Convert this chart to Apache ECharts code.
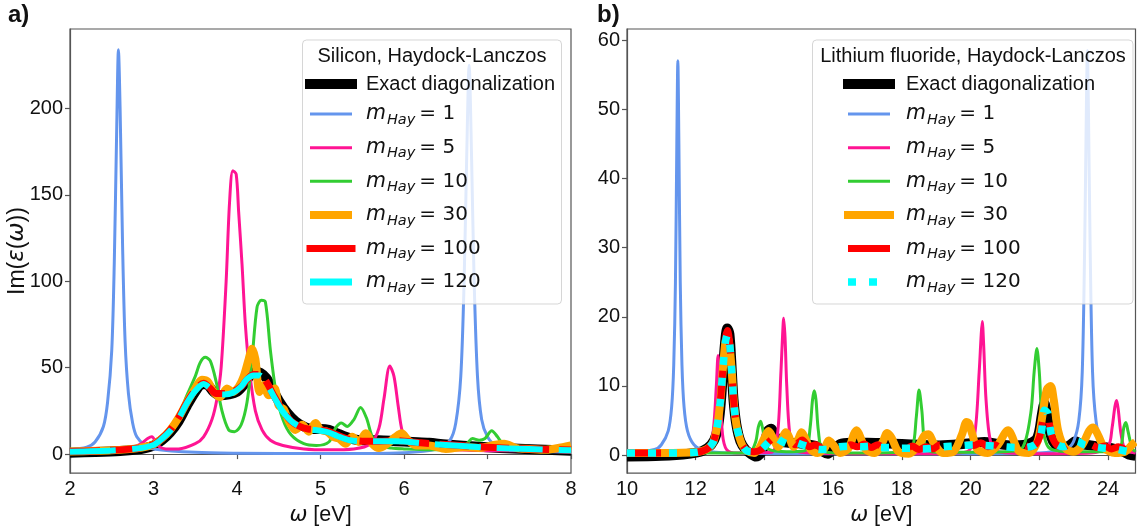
<!DOCTYPE html>
<html><head><meta charset="utf-8">
<script src="https://cdn.jsdelivr.net/npm/echarts@6/dist/echarts.min.js"></script>
<style>html,body{margin:0;padding:0;background:#fff}#c{width:1137px;height:531px}</style>
</head><body><div id="c"></div>
<script>
// ---------- Panel a) Silicon ----------
const siExactX = [2.0,2.3,2.6,2.8,2.9,3.0,3.1,3.2,3.3,3.4,3.5,3.58,3.65,3.72,3.8,3.9,4.0,4.08,4.15,4.22,4.28,4.35,4.42,4.5,4.6,4.7,4.8,4.9,5.0,5.1,5.2,5.3,5.4,5.5,5.7,5.9,6.1,6.3,6.5,6.8,7.0,7.3,7.6,8.0];
const siExactY = [0.8,1.2,1.8,2.6,3.5,5,8,12.5,19,28,36,40.5,40,36,34,34.5,36,40,45,47.5,47,44,38,31,24,19,16,14.5,14.5,14,12,10,8.5,8,8,7.5,7,6.5,5.5,4.5,4,3.2,2.6,2];
const siBlueX = [2.0,2.2,2.3,2.4,2.45,2.5,2.53,2.56,2.58,2.6,2.63,2.66,2.7,2.75,2.8,2.9,3.0,3.5,4.0,5.0,6.0,6.4,6.55,6.62,6.68,6.72,6.75,6.78,6.81,6.84,6.88,6.93,7.0,7.1,7.3,8.0];
const siBlueY = [2.5,4,7,16,30,60,110,190,234,200,120,65,35,18,10,5,3,1,0.5,0.3,0.8,3,8,18,45,100,170,225,170,100,45,20,10,5,2.5,1];
const siPinkX = [2.0,2.4,2.7,2.85,2.93,2.98,3.05,3.15,3.3,3.5,3.6,3.7,3.76,3.81,3.87,3.91,3.95,3.99,4.02,4.06,4.1,4.15,4.22,4.3,4.4,4.55,4.8,5.1,5.4,5.6,5.7,5.76,5.83,5.88,5.93,5.98,6.05,6.15,6.3,6.6,7.0,7.5,8.0];
const siPinkY = [0.5,1.2,3,6,9,10,5,3,3,6,10,20,32,50,100,145,164,162,140,110,75,48,25,14,8,5,3,2.5,3,6,15,32,51,45,28,13,7,4,3,2.5,2,2,2];
const siGreenX = [2.0,2.5,2.8,3.0,3.2,3.3,3.4,3.5,3.56,3.62,3.68,3.75,3.82,3.9,3.97,4.05,4.12,4.18,4.24,4.29,4.34,4.4,4.47,4.55,4.65,4.8,4.95,5.1,5.18,5.25,5.32,5.4,5.48,5.55,5.62,5.7,5.85,6.0,6.3,6.6,6.75,6.82,6.9,6.97,7.05,7.12,7.2,7.4,7.7,8.0];
const siGreenY = [1,1.8,3,5,13,22,34,45,53,56,54,42,25,14,13,17,30,55,85,89,88,60,35,20,11,6,5,7,15,18,16,20,27,21,10,5,3.5,3,2.5,3,6,9,8,9,13.5,10,5,3,2.5,2];
const siOrangeX = [2.0,2.5,2.8,3.0,3.1,3.2,3.3,3.4,3.5,3.58,3.65,3.72,3.8,3.88,3.95,4.02,4.08,4.14,4.18,4.22,4.27,4.32,4.38,4.45,4.5,4.56,4.62,4.7,4.78,4.86,4.94,5.0,5.08,5.15,5.22,5.3,5.38,5.46,5.54,5.62,5.7,5.8,5.9,5.97,6.05,6.15,6.3,6.5,6.7,6.9,7.05,7.2,7.35,7.5,7.7,7.9,8.0];
const siOrangeY = [1.5,2.2,3.3,5.5,9,14,21,30,38,43,42,36,33,38,36,39,45,55,61,55,36,40,34,38,28,26,19,14,17,13,18,14,13,10,9,6,10,7,12,6,3.5,6,10,12,8,5,5,3,4,3.5,5,6,3.5,3,2.5,4,5];
const siRedX = [2.0,2.5,2.8,3.0,3.1,3.2,3.3,3.4,3.5,3.6,3.68,3.75,3.85,3.95,4.05,4.12,4.2,4.27,4.35,4.45,4.55,4.65,4.75,4.85,5.0,5.1,5.2,5.35,5.5,5.7,5.9,6.0,6.2,6.5,7.0,7.5,8.0];
const siRedY = [1.5,2.2,3.3,5.5,9,14,21,30,37,41,38,35,35,36,39,43,46,46,42,33,25,19,16,14.5,14,13,11,8.5,7.5,7.5,7.8,7.5,6.5,5.5,4,3,2.3];
const siCyanX = [2.0,2.5,2.8,3.0,3.1,3.2,3.3,3.4,3.5,3.6,3.68,3.75,3.85,3.95,4.05,4.12,4.2,4.27,4.35,4.45,4.55,4.65,4.75,4.85,5.0,5.1,5.2,5.35,5.5,5.7,5.9,6.0,6.2,6.5,7.0,7.5,8.0];
const siCyanY = [1.4,2.1,3.2,5.3,8.8,13.5,20.5,29.5,36.5,40.5,38,35,34.5,35.5,39,43.5,45.5,45.5,41,32.5,24.5,19,16,14.5,13.5,12.5,10.5,8,7.5,7.5,7.5,7.3,6.3,5.3,3.8,2.9,2.2];

// ---------- Panel b) Lithium fluoride ----------
const lfExactX = [10,11,11.8,12.2,12.45,12.6,12.7,12.78,12.85,12.92,12.98,13.04,13.1,13.18,13.3,13.45,13.6,13.75,13.9,14.0,14.1,14.2,14.3,14.45,14.7,15.0,15.3,15.55,15.7,15.85,16.0,16.2,16.5,17.0,17.5,18.0,18.5,19.0,19.5,20.0,20.4,20.8,21.2,21.6,21.9,22.0,22.08,22.15,22.22,22.3,22.4,22.55,22.7,22.9,23.05,23.2,23.5,23.8,24.1,24.4,24.6,24.8];
const lfExactY = [-0.2,-0.1,0.2,0.6,1.5,3,6,11,16,18.3,17.5,13,8,4.5,2,0.8,0.2,-0.2,0.3,1.5,3.5,3.8,2.8,2,1.8,1.7,1.5,1.2,0.5,0.2,0.8,1.6,1.8,1.8,1.7,1.6,1.5,1.4,1.5,1.7,1.9,1.6,1.4,1.5,2.2,3.5,6,7.5,6,3.5,2,1.2,1,1.5,2,1.6,1.4,1.2,1.0,0.6,0.1,-0.1];
const lfBlueX = [10,10.8,11.0,11.2,11.3,11.36,11.41,11.45,11.48,11.51,11.55,11.6,11.66,11.76,11.95,12.3,13,16,20,22,22.8,23.0,23.15,23.25,23.32,23.37,23.4,23.43,23.48,23.55,23.65,23.8,24.2,24.8];
const lfBlueY = [0.3,0.8,1.5,3.5,7,13,25,45,57,45,25,13,7,3.5,1.5,0.6,0.3,0.2,0.2,0.3,1,2,5,12,30,50,58.5,50,30,12,5,2,0.8,0.4];
const lfPinkX = [10,12,12.4,12.52,12.6,12.65,12.7,12.78,12.9,13.2,14.2,14.38,14.48,14.53,14.56,14.6,14.65,14.74,14.9,15.5,17,19,19.9,20.12,20.25,20.31,20.34,20.38,20.45,20.58,20.8,22,23.5,24.0,24.12,24.2,24.25,24.3,24.38,24.5,24.8];
const lfPinkY = [0.3,0.3,1,4,10,14.4,10,3,0.8,0.3,0.4,3,12,17.5,19.8,17,10,3,0.6,0.3,0.2,0.2,0.5,3,12,17.5,19.3,16,8,2,0.5,0.2,0.3,1.2,4,7,7.9,6.5,3,0.8,0.3];
const lfGreenX = [10,12,12.8,13.3,13.6,13.75,13.82,13.89,13.96,14.05,14.3,14.8,15.2,15.33,15.4,15.45,15.5,15.57,15.7,16.2,17,18,18.3,18.42,18.5,18.58,18.7,19,20,21,21.5,21.75,21.85,21.93,22.0,22.1,22.3,23,24,24.35,24.46,24.52,24.58,24.7,24.8];
const lfGreenY = [0.3,0.3,0.3,0.3,0.5,2,4,4.9,3.5,1.2,0.6,0.5,0.7,4,8,9.3,8,3.5,0.6,0.3,0.3,0.4,1,5.5,9.4,6.5,1,0.4,0.4,0.5,1,6,12,15.4,12,4,1,0.5,0.5,1,4,4.7,3.5,1,0.5];
const lfOrangeX = [10,11,12,12.3,12.5,12.62,12.72,12.8,12.87,12.93,12.99,13.05,13.12,13.2,13.35,13.5,13.7,13.85,14.0,14.12,14.25,14.4,14.55,14.62,14.7,14.85,15.0,15.08,15.18,15.35,15.55,15.75,15.87,16.0,16.2,16.45,16.6,16.68,16.76,16.95,17.2,17.45,17.57,17.7,17.9,18.2,18.5,18.65,18.78,18.92,19.2,19.5,19.75,19.88,19.95,20.05,20.2,20.5,20.8,21.0,21.1,21.2,21.4,21.7,21.95,22.1,22.22,22.33,22.42,22.55,22.75,23.0,23.25,23.45,23.57,23.7,23.9,24.2,24.5,24.7,24.8];
const lfOrangeY = [0.3,0.3,0.4,0.8,1.8,4,8,13,16.5,17,15.5,12,7,4,1.5,0.6,0.3,1.0,2.5,3.5,2.5,1.2,2.8,3.3,2.8,1.2,2.5,3.3,2.5,0.8,0.3,1.0,2.1,1.5,0.3,1.0,3.0,3.6,3.0,0.8,0.3,2.0,3.2,2.5,0.5,0.2,1.5,2.8,3.0,1.8,0.3,0.5,3.0,4.8,4.6,3.0,0.8,0.3,1.5,3.2,3.6,2.8,0.6,0.3,2.0,6.0,9.5,10,8,3.5,1.0,0.5,1.5,3.5,4.0,3.0,1.0,0.3,0.5,1.5,1.9];
const lfRedX = [10,11,12,12.3,12.5,12.62,12.72,12.8,12.87,12.93,12.99,13.05,13.12,13.2,13.35,13.5,13.7,13.9,14.1,14.3,14.5,14.7,14.9,15.1,15.3,15.5,15.7,15.9,16.1,16.3,16.5,16.7,16.9,17.1,17.3,17.5,17.7,17.9,18.1,18.3,18.5,18.7,18.9,19.1,19.3,19.5,19.7,19.9,20.1,20.3,20.5,20.7,20.9,21.1,21.3,21.5,21.7,21.9,22.0,22.1,22.17,22.25,22.35,22.5,22.7,22.9,23.1,23.3,23.5,23.7,23.9,24.1,24.3,24.5,24.7,24.8];
const lfRedY = [0.3,0.3,0.4,0.8,1.8,4,8,13,17,18,16,12,7,4,1.5,0.7,0.5,0.8,1.8,2.5,1.8,2.5,1.5,2.2,1.2,1.5,0.8,0.6,1.2,1.0,1.5,1.2,1.6,1.1,1.5,1.0,1.3,1.1,0.9,1.3,0.8,1.2,0.9,1.5,1.0,1.6,1.1,1.5,1.4,1.8,1.2,1.5,1.0,1.4,1.1,1.5,1.2,1.6,2.5,5,6.8,6,3,1.5,1.2,1.8,2.2,1.5,1.5,1.1,1.3,0.9,1.2,0.8,0.5,0.3];
const lfCyanX = [10,11,12,12.3,12.5,12.62,12.72,12.8,12.87,12.93,12.99,13.05,13.12,13.2,13.35,13.5,13.7,13.9,14.1,14.3,14.5,14.7,14.9,15.1,15.3,15.6,15.9,16.2,16.5,16.8,17.1,17.4,17.7,18.0,18.3,18.6,18.9,19.2,19.5,19.8,20.1,20.4,20.7,21.0,21.3,21.6,21.9,22.05,22.15,22.25,22.35,22.5,22.7,22.9,23.1,23.3,23.6,23.9,24.2,24.5,24.8];
const lfCyanY = [0.3,0.3,0.4,0.8,1.8,4,8,13,16.5,17.5,16,12,7,4,1.5,0.6,0.5,0.8,1.8,2.6,2,1.6,1.8,1.5,1.2,0.8,0.8,1.2,1.3,1.2,1.3,1.1,1.1,1.0,1.0,0.9,1.0,1.2,1.3,1.4,1.5,1.4,1.3,1.2,1.1,1.1,1.6,3,6.5,6,3,1.6,1.2,1.6,2,1.5,1.2,1.0,0.9,0.6,0.3];

// ---------- ticks / labels ----------
const siXTicks = [2,3,4,5,6,7,8];
const siYTicks = [0,50,100,150,200];
const lfXTicks = [10,12,14,16,18,20,22,24];
const lfYTicks = [0,10,20,30,40,50,60];
const seriesNames = ['Exact diagonalization','mHay = 1','mHay = 5','mHay = 10','mHay = 30','mHay = 100','mHay = 120'];
const panelTitles = ['Silicon, Haydock-Lanczos','Lithium fluoride, Haydock-Lanczos'];
const panelLetters = ['a)','b)'];

const COLORS = {exact:'#000000', blue:'#6495ED', pink:'#FF1493', green:'#32CD32', orange:'#FFA500', red:'#FF0000', cyan:'#00FFFF'};
const SANS = '"Liberation Sans", Arial, sans-serif';
const TXT = '#111111';
const AX = '#555555';

function pairs(xs, ys){ return xs.map((x,i)=>[x, ys[i]]); }

function mk(name, xs, ys, idx, color, width, type){
  return {
    name, type:'line', xAxisIndex:idx, yAxisIndex:idx,
    data: pairs(xs, ys), symbol:'none', showSymbol:false, smooth:0.3,
    animation:false, silent:true,
    lineStyle:{color, width, type: type || 'solid', cap:'butt', join:'round'}
  };
}

const series = [
  mk(seriesNames[0], siExactX, siExactY, 0, COLORS.exact, 10),
  mk(seriesNames[1], siBlueX, siBlueY, 0, COLORS.blue, 3),
  mk(seriesNames[2], siPinkX, siPinkY, 0, COLORS.pink, 3),
  mk(seriesNames[3], siGreenX, siGreenY, 0, COLORS.green, 3),
  mk(seriesNames[4], siOrangeX, siOrangeY, 0, COLORS.orange, 8),
  mk(seriesNames[5], siRedX, siRedY, 0, COLORS.red, 7, [30,10]),
  mk(seriesNames[6], siCyanX, siCyanY, 0, COLORS.cyan, 6, [46,16]),
  mk(seriesNames[0], lfExactX, lfExactY, 1, COLORS.exact, 10),
  mk(seriesNames[1], lfBlueX, lfBlueY, 1, COLORS.blue, 3),
  mk(seriesNames[2], lfPinkX, lfPinkY, 1, COLORS.pink, 3),
  mk(seriesNames[3], lfGreenX, lfGreenY, 1, COLORS.green, 3),
  mk(seriesNames[4], lfOrangeX, lfOrangeY, 1, COLORS.orange, 8),
  mk(seriesNames[5], lfRedX, lfRedY, 1, COLORS.red, 7, [34,30]),
  mk(seriesNames[6], lfCyanX, lfCyanY, 1, COLORS.cyan, 7.5, [8,13])
];

function legendFormatter(name){
  if (name.indexOf('mHay') === 0) {
    const v = name.split('=')[1].trim();
    return '{m|m}{s|Hay}{t|\u2009= ' + v + '}';
  }
  return '{e|' + name + '}';
}
function richFor(padLeft){
  return {
    e:{fontFamily:SANS, fontSize:20, color:TXT, lineHeight:22, padding:[0,0,0,padLeft]},
    m:{fontFamily:'"DejaVu Sans"', fontStyle:'italic', fontSize:20.5, color:TXT, lineHeight:25, padding:[0,0,0,padLeft]},
    s:{fontFamily:'"DejaVu Sans"', fontStyle:'italic', fontSize:14.5, color:TXT, lineHeight:13, padding:[12,0,0,1]},
    t:{fontFamily:'"DejaVu Sans"', fontSize:20, color:TXT, lineHeight:25}
  };
}
const hide = {opacity:0};
const leftLegendData = [
  {name:seriesNames[0], lineStyle:{width:10, cap:'square', type:'solid'}, itemStyle:hide},
  {name:seriesNames[1], lineStyle:{width:3, type:'solid'}, itemStyle:hide},
  {name:seriesNames[2], lineStyle:{width:3, type:'solid'}, itemStyle:hide},
  {name:seriesNames[3], lineStyle:{width:3, type:'solid'}, itemStyle:hide},
  {name:seriesNames[4], lineStyle:{width:8, type:'solid'}, itemStyle:hide},
  {name:seriesNames[5], lineStyle:{width:7, type:'solid', cap:'square'}, itemStyle:hide},
  {name:seriesNames[6], lineStyle:{width:7, type:'solid'}, itemStyle:hide}
];
const rightLegendData = [
  {name:seriesNames[0], lineStyle:{width:10, cap:'square', type:'solid'}, itemStyle:hide},
  {name:seriesNames[1], lineStyle:{width:3, type:'solid'}, itemStyle:hide},
  {name:seriesNames[2], lineStyle:{width:3, type:'solid'}, itemStyle:hide},
  {name:seriesNames[3], lineStyle:{width:3, type:'solid'}, itemStyle:hide},
  {name:seriesNames[4], lineStyle:{width:8, type:'solid', cap:'square'}, itemStyle:hide},
  {name:seriesNames[5], lineStyle:{width:7, type:'solid'}, itemStyle:hide},
  {name:seriesNames[6], lineStyle:{width:7.5, type:[8,13], cap:'butt'}, itemStyle:hide}
];

function xAxisCfg(idx, min, max, ticks){
  return {
    gridIndex:idx, type:'value', min, max,
    axisLine:{show:true, lineStyle:{color:AX, width:1.2}},
    axisTick:{show:true, length:5, customValues:ticks, lineStyle:{color:AX, width:1.2}},
    axisLabel:{customValues:ticks, fontSize:20, color:TXT, margin:6, fontFamily:SANS},
    splitLine:{show:false},
    name:'{w|ω} [eV]', nameLocation:'middle', nameGap:27,
    nameTextStyle:{fontSize:21.5, fontFamily:SANS, color:TXT, rich:{w:{fontFamily:'"DejaVu Sans"', fontStyle:'italic', fontSize:21.5, color:TXT}}}
  };
}
function yAxisCfg(idx, min, max, ticks, withName){
  const c = {
    gridIndex:idx, type:'value', min, max,
    axisLine:{show:true, lineStyle:{color:AX, width:1.2}},
    axisTick:{show:true, length:5, customValues:ticks, lineStyle:{color:AX, width:1.2}},
    axisLabel:{customValues:ticks, fontSize:20, color:TXT, margin:7, fontFamily:SANS},
    splitLine:{show:false}
  };
  if (withName) {
    c.name = '{n|Im(}{g|ε}{n|(}{g|ω}{n|))}';
    c.nameLocation = 'middle';
    c.nameGap = 41;
    c.nameMoveOverlap = false;
    c.nameTextStyle = {fontSize:23, color:TXT, rich:{
      n:{fontFamily:SANS, fontSize:23, color:TXT},
      g:{fontFamily:'"DejaVu Sans"', fontStyle:'italic', fontSize:23, color:TXT}
    }};
  }
  return c;
}

const option = {
  backgroundColor:'#ffffff',
  animation:false,
  grid:[
    {left:70, top:29, width:501, height:449, show:true, borderColor:AX, borderWidth:1.2, backgroundColor:'transparent'},
    {left:627, top:29, width:508.5, height:449, show:true, borderColor:AX, borderWidth:1.2, backgroundColor:'transparent'}
  ],
  xAxis:[ xAxisCfg(0, 2, 8, siXTicks), xAxisCfg(1, 10, 24.8, lfXTicks) ],
  yAxis:[ yAxisCfg(0, -11, 246, siYTicks, true), yAxisCfg(1, -2.6, 61.6, lfYTicks, false) ],
  legend:[
    {orient:'vertical', left:305, top:74, padding:0, itemGap:6.6, itemWidth:42, itemHeight:14, z:20,
     selectedMode:false, data:leftLegendData, formatter:legendFormatter,
     textStyle:{rich:richFor(9)}},
    {orient:'vertical', left:843, top:74, padding:0, itemGap:6.6, itemWidth:42, itemHeight:14, z:20,
     selectedMode:false, data:rightLegendData, formatter:legendFormatter,
     textStyle:{rich:richFor(11)}}
  ],
  graphic:[
    {type:'rect', z:10, shape:{x:302.5, y:40, width:259, height:264, r:4},
     style:{fill:'rgba(255,255,255,0.8)', stroke:'rgba(204,204,204,0.8)', lineWidth:1}},
    {type:'rect', z:10, shape:{x:812.5, y:40, width:320.5, height:264, r:4},
     style:{fill:'rgba(255,255,255,0.8)', stroke:'rgba(204,204,204,0.8)', lineWidth:1}},
    {type:'text', z:20, x:432, y:56, style:{text:panelTitles[0], fontSize:20, fontFamily:SANS, fill:TXT, align:'center', verticalAlign:'middle'}},
    {type:'text', z:20, x:973, y:56, style:{text:panelTitles[1], fontSize:20, fontFamily:SANS, fill:TXT, align:'center', verticalAlign:'middle'}},
    {type:'text', z:20, x:8, y:3, style:{text:panelLetters[0], fontSize:24, fontWeight:'bold', fontFamily:SANS, fill:TXT, align:'left', verticalAlign:'top'}},
    {type:'text', z:20, x:597, y:3, style:{text:panelLetters[1], fontSize:24, fontWeight:'bold', fontFamily:SANS, fill:TXT, align:'left', verticalAlign:'top'}}
  ],
  series
};

const chart = echarts.init(document.getElementById('c'), null, {renderer:'canvas'});
chart.setOption(option);
</script>
</body></html>
